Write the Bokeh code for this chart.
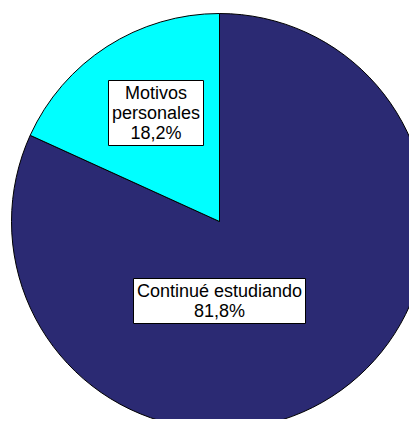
import math
from bokeh.plotting import figure
from bokeh.models import ColumnDataSource
from bokeh.core.properties import value
from bokeh.embed import file_html
from bokeh.resources import INLINE

# data
categories = ["Continué estudiando", "Motivos personales"]
percentages = [81.8, 18.2]
colors = ["#2B2A73", "#00FFFF"]

# layout (pixels in plot space)
W, H = 409, 419
cx, cy, r = 219, 198, 208
label_pos = [(219, 118.5), (155.5, 306.5)]
label_box = [(172, 45), (95, 65)]

p = figure(width=W, height=H, x_range=(0, W), y_range=(0, H),
           output_backend="svg", toolbar_location=None,
           min_border=0, outline_line_color=None)
p.axis.visible = False
p.grid.visible = False
p.background_fill_color = "white"
p.border_fill_color = "white"

# clockwise from 12 o'clock
total = sum(percentages)
starts, ends = [], []
cur = math.pi / 2
for v in percentages:
    ang = v / total * 2 * math.pi
    ends.append(cur)
    starts.append(cur - ang)
    cur -= ang

src = ColumnDataSource(dict(start=starts, end=ends, color=colors, cat=categories))
p.wedge(x=cx, y=cy, radius=r, start_angle="start", end_angle="end",
        direction="anticlock", fill_color="color", line_color="black",
        line_width=1, source=src)

texts = [f"{pct:.1f}".replace(".", ",") + "%" for pct in percentages]

lab_text = []
for i, cat in enumerate(categories):
    if i == 0:
        lab_text.append(cat + "\n" + texts[i])
    else:
        w1, w2 = cat.split(" ")
        lab_text.append(w1 + "\n" + w2 + "\n" + texts[i])

lsrc = ColumnDataSource(dict(
    x=[q[0] for q in label_pos], y=[q[1] for q in label_pos],
    w=[b[0] for b in label_box], h=[b[1] for b in label_box],
    t=lab_text))
p.rect(x="x", y="y", width="w", height="h", fill_color="white",
       line_color="black", line_width=1, source=lsrc)
p.text(x="x", y="y", text="t", text_align="center", text_baseline="middle",
       text_font=value("Liberation Sans"), text_font_size="18px",
       text_line_height=1.0, text_color="black", source=lsrc)

open("out.html", "w").write(file_html(p, INLINE))
